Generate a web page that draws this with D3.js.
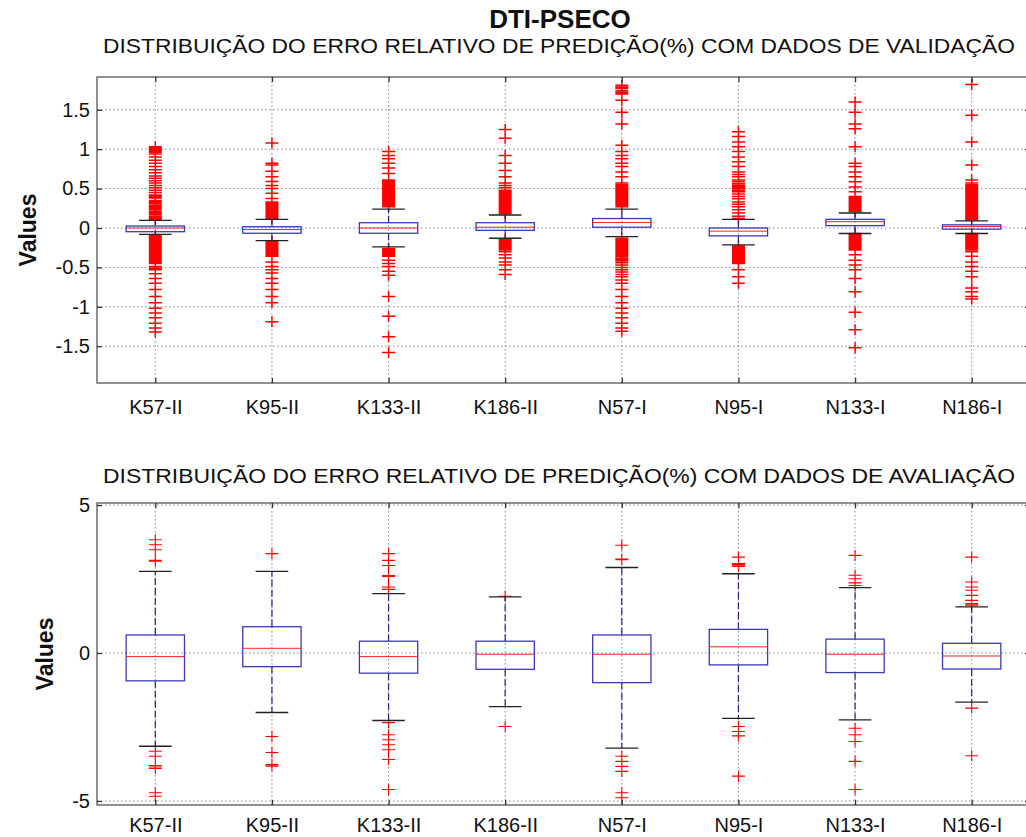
<!DOCTYPE html>
<html>
<head>
<meta charset="utf-8">
<script src="https://cdn.jsdelivr.net/npm/d3@7"></script>
<style>
  body { margin: 0; background: #fff; }
  svg { display: block; font-family: "Liberation Sans", Arial, sans-serif; }
</style>
</head>
<body>
<svg></svg>
<script>
"use strict";

const categories = ["K57-II", "K95-II", "K133-II", "K186-II", "N57-I", "N95-I", "N133-I", "N186-I"];

// validation data (top)
const valTicks = [-1.5, -1, -0.5, 0, 0.5, 1, 1.5];
const valQ1 = [-0.047, -0.067, -0.067, -0.03, 0.01, -0.1, 0.03, -0.015];
const valMedian = [0.0, -0.02, 0.0, 0.01, 0.07, -0.04, 0.08, 0.02];
const valQ3 = [0.025, 0.016, 0.067, 0.067, 0.12, 0.0, 0.11, 0.04];
const valLow = [-0.08, -0.16, -0.24, -0.13, -0.11, -0.215, -0.07, -0.07];
const valHigh = [0.097, 0.11, 0.24, 0.165, 0.24, 0.11, 0.19, 0.09];
const valOutHigh = [
  [0.11, 0.13, 0.15, 0.17, 0.19, 0.21, 0.23, 0.25, 0.27, 0.29, 0.31, 0.33, 0.35, 0.38, 0.4, 0.42, 0.45, 0.48, 0.51, 0.54, 0.57, 0.6, 0.63, 0.66, 0.7, 0.74, 0.78, 0.82, 0.86, 0.9, 0.94, 0.96, 0.975, 0.99, 1.0, 1.01, 1.02, 1.03],
  [0.12, 0.13, 0.145, 0.16, 0.17, 0.185, 0.2, 0.21, 0.225, 0.24, 0.25, 0.265, 0.28, 0.29, 0.305, 0.32, 0.33, 0.375, 0.44, 0.5, 0.54, 0.59, 0.65, 0.72, 0.8, 0.82, 1.08],
  [0.27, 0.28, 0.295, 0.31, 0.32, 0.335, 0.35, 0.36, 0.375, 0.39, 0.4, 0.415, 0.43, 0.44, 0.455, 0.47, 0.48, 0.495, 0.51, 0.52, 0.535, 0.55, 0.56, 0.575, 0.59, 0.61, 0.69, 0.76, 0.82, 0.88, 0.92, 0.97],
  [0.18, 0.19, 0.205, 0.22, 0.23, 0.245, 0.26, 0.27, 0.285, 0.3, 0.31, 0.325, 0.34, 0.35, 0.365, 0.38, 0.39, 0.405, 0.42, 0.43, 0.445, 0.46, 0.48, 0.51, 0.54, 0.57, 0.65, 0.73, 0.82, 0.92, 1.14, 1.25],
  [0.27, 0.28, 0.295, 0.31, 0.32, 0.335, 0.35, 0.36, 0.375, 0.39, 0.4, 0.415, 0.43, 0.44, 0.455, 0.47, 0.48, 0.495, 0.51, 0.52, 0.535, 0.55, 0.57, 0.65, 0.71, 0.78, 0.82, 0.88, 0.92, 0.97, 1.05, 1.32, 1.47, 1.62, 1.7, 1.72, 1.74, 1.77, 1.79, 1.81],
  [0.12, 0.15, 0.19, 0.23, 0.27, 0.3, 0.33, 0.37, 0.4, 0.43, 0.46, 0.48, 0.5, 0.52, 0.54, 0.56, 0.586, 0.61, 0.65, 0.68, 0.71, 0.78, 0.84, 0.9, 0.97, 1.03, 1.09, 1.16, 1.22],
  [0.21, 0.22, 0.235, 0.25, 0.26, 0.275, 0.29, 0.3, 0.315, 0.33, 0.34, 0.355, 0.37, 0.38, 0.4, 0.46, 0.52, 0.586, 0.65, 0.71, 0.78, 0.82, 1.03, 1.26, 1.32, 1.47, 1.6],
  [0.1, 0.11, 0.125, 0.14, 0.15, 0.165, 0.18, 0.19, 0.205, 0.22, 0.23, 0.245, 0.26, 0.27, 0.285, 0.3, 0.31, 0.325, 0.34, 0.35, 0.365, 0.38, 0.39, 0.405, 0.42, 0.43, 0.445, 0.46, 0.47, 0.485, 0.5, 0.51, 0.525, 0.54, 0.55, 0.57, 0.61, 0.8, 1.09, 1.43, 1.82]
];
const valOutLow = [
  [-0.1, -0.11, -0.12, -0.135, -0.15, -0.16, -0.17, -0.185, -0.2, -0.21, -0.22, -0.235, -0.25, -0.26, -0.27, -0.285, -0.3, -0.31, -0.32, -0.335, -0.35, -0.36, -0.37, -0.385, -0.4, -0.41, -0.42, -0.435, -0.45, -0.49, -0.51, -0.53, -0.58, -0.64, -0.7, -0.78, -0.87, -0.95, -1.02, -1.08, -1.14, -1.21, -1.27, -1.32],
  [-0.17, -0.18, -0.195, -0.21, -0.22, -0.235, -0.25, -0.26, -0.275, -0.29, -0.3, -0.315, -0.33, -0.345, -0.36, -0.43, -0.49, -0.53, -0.57, -0.64, -0.7, -0.78, -0.87, -0.95, -1.19],
  [-0.26, -0.27, -0.285, -0.3, -0.31, -0.325, -0.34, -0.35, -0.36, -0.41, -0.45, -0.49, -0.55, -0.6, -0.87, -1.12, -1.38, -1.58],
  [-0.15, -0.16, -0.175, -0.19, -0.2, -0.215, -0.23, -0.24, -0.255, -0.27, -0.28, -0.3, -0.34, -0.38, -0.43, -0.47, -0.53, -0.59],
  [-0.13, -0.14, -0.155, -0.17, -0.18, -0.195, -0.21, -0.22, -0.235, -0.25, -0.26, -0.275, -0.29, -0.3, -0.315, -0.33, -0.345, -0.36, -0.38, -0.4, -0.42, -0.44, -0.47, -0.5, -0.53, -0.56, -0.59, -0.62, -0.66, -0.7, -0.78, -0.87, -0.95, -1.02, -1.08, -1.14, -1.21, -1.27, -1.31],
  [-0.23, -0.24, -0.255, -0.27, -0.28, -0.295, -0.31, -0.32, -0.335, -0.35, -0.36, -0.375, -0.39, -0.4, -0.415, -0.43, -0.45, -0.53, -0.62, -0.7],
  [-0.07, -0.08, -0.095, -0.11, -0.12, -0.135, -0.15, -0.16, -0.175, -0.19, -0.2, -0.215, -0.23, -0.24, -0.255, -0.27, -0.28, -0.34, -0.41, -0.47, -0.53, -0.64, -0.81, -1.07, -1.29, -1.52],
  [-0.07, -0.08, -0.095, -0.11, -0.12, -0.135, -0.15, -0.16, -0.175, -0.19, -0.2, -0.215, -0.23, -0.24, -0.255, -0.27, -0.28, -0.3, -0.36, -0.43, -0.49, -0.55, -0.62, -0.76, -0.81, -0.87, -0.9]
];

// evaluation data (bottom)
const evalTicks = [-5, 0, 5];
const evalQ1 = [-0.94, -0.46, -0.68, -0.55, -1.0, -0.4, -0.66, -0.54];
const evalMedian = [-0.12, 0.16, -0.12, -0.04, -0.04, 0.21, -0.04, -0.1];
const evalQ3 = [0.61, 0.89, 0.4, 0.4, 0.61, 0.8, 0.47, 0.33];
const evalLow = [-3.15, -2.01, -2.28, -1.81, -3.21, -2.21, -2.26, -1.66];
const evalHigh = [2.76, 2.76, 2.01, 1.9, 2.89, 2.68, 2.21, 1.56];
const evalOutHigh = [
  [3.1, 3.13, 3.49, 3.66, 3.83],
  [3.36],
  [2.15, 2.23, 2.59, 2.62, 2.96, 3.13, 3.36],
  [1.92],
  [3.15, 3.18, 3.64],
  [2.93, 2.98, 3.02, 3.24],
  [2.28, 2.37, 2.51, 2.63, 3.3],
  [1.62, 1.67, 1.78, 1.95, 2.12, 2.23, 2.4, 3.24]
];
const evalOutLow = [
  [-3.32, -3.49, -3.8, -3.85, -3.9, -4.72, -4.84],
  [-2.82, -3.36, -3.77, -3.82],
  [-2.35, -2.76, -2.93, -3.1, -3.27, -3.6, -4.61],
  [-2.48],
  [-3.49, -3.66, -3.83, -4.0, -4.72, -4.89],
  [-2.48, -2.65, -2.8, -4.16],
  [-2.54, -2.76, -2.99, -3.66, -4.61],
  [-1.86, -3.47]
];

const width = 1026;
const height = 837;
const plotLeft = 97;
const plotRight = 1030;
const font = '"Liberation Sans", Arial, sans-serif';

const svg = d3.select("svg").attr("width", width).attr("height", height);

const xScale = d3.scaleLinear().domain([0.5, 8.5]).range([plotLeft, plotRight]);
const positions = categories.map((c, i) => i + 1);

const drawPanel = (p) => {
  const yScale = d3.scaleLinear().domain(p.domain).range([p.bottom, p.top]);
  const g = svg.append("g");

  // dotted grid
  g.selectAll(".hgrid")
    .data(p.ticks)
    .enter()
    .append("line")
    .attr("x1", plotLeft)
    .attr("x2", plotRight)
    .attr("y1", (d) => yScale(d))
    .attr("y2", (d) => yScale(d))
    .attr("stroke", "#888")
    .attr("stroke-dasharray", "1.5,2.5");
  g.selectAll(".vgrid")
    .data(positions)
    .enter()
    .append("line")
    .attr("x1", (d) => xScale(d))
    .attr("x2", (d) => xScale(d))
    .attr("y1", p.top)
    .attr("y2", p.bottom)
    .attr("stroke", "#888")
    .attr("stroke-dasharray", "1.5,2.5");

  // outliers as red +
  positions.forEach((pos, i) => {
    const x = xScale(pos);
    const pts = p.outHigh[i].concat(p.outLow[i]);
    g.append("path")
      .attr("d", pts.map((v) => {
        const y = yScale(v);
        return `M${x - 6.5},${y}H${x + 6.5}M${x},${y - 5.5}V${y + 5.5}`;
      }).join(""))
      .attr("fill", "none")
      .attr("stroke", "#ff0000")
      .attr("stroke-width", p.markerStroke);
  });

  const boxW = xScale(1.25) - xScale(1);
  const capW = xScale(1.14) - xScale(1);

  // whiskers
  g.selectAll(".whisk")
    .data(positions)
    .enter()
    .append("path")
    .attr("d", (d, i) => `M${xScale(d)},${yScale(p.q3[i])}V${yScale(p.high[i])}M${xScale(d)},${yScale(p.q1[i])}V${yScale(p.low[i])}`)
    .attr("stroke", "#222288")
    .attr("stroke-width", 1.2)
    .attr("stroke-dasharray", "7,3")
    .attr("fill", "none");
  g.selectAll(".cap")
    .data(positions)
    .enter()
    .append("path")
    .attr("d", (d, i) => `M${xScale(d) - capW},${yScale(p.high[i])}H${xScale(d) + capW}M${xScale(d) - capW},${yScale(p.low[i])}H${xScale(d) + capW}`)
    .attr("stroke", "#222")
    .attr("stroke-width", 1.3)
    .attr("fill", "none");

  // boxes
  g.selectAll(".box")
    .data(positions)
    .enter()
    .append("rect")
    .attr("x", (d) => xScale(d) - boxW)
    .attr("width", boxW * 2)
    .attr("y", (d, i) => yScale(p.q3[i]))
    .attr("height", (d, i) => yScale(p.q1[i]) - yScale(p.q3[i]))
    .attr("fill", "none")
    .attr("stroke", "#3a3ab8")
    .attr("stroke-width", 1.3);
  g.selectAll(".med")
    .data(positions)
    .enter()
    .append("line")
    .attr("x1", (d) => xScale(d) - boxW)
    .attr("x2", (d) => xScale(d) + boxW)
    .attr("y1", (d, i) => yScale(p.median[i]))
    .attr("y2", (d, i) => yScale(p.median[i]))
    .attr("stroke", "#ff2020");

  // frame
  g.append("rect")
    .attr("x", plotLeft)
    .attr("y", p.top)
    .attr("width", plotRight - plotLeft)
    .attr("height", p.bottom - p.top)
    .attr("fill", "none")
    .attr("stroke", "#555")
    .attr("stroke-width", 1.3);

  // axes, ticks inward
  const yAxis = d3.axisLeft(yScale).tickValues(p.ticks).tickFormat((d) => String(d)).tickSize(-5).tickPadding(7);
  const yAxisR = d3.axisRight(yScale).tickValues(p.ticks).tickFormat("").tickSize(-5);
  const xAxis = d3.axisBottom(xScale).tickValues(positions).tickFormat((d) => categories[d - 1]).tickSize(-5).tickPadding(p.labelPad);
  const xAxisT = d3.axisTop(xScale).tickValues(positions).tickFormat("").tickSize(-5);

  const axes = [
    g.append("g").attr("transform", `translate(${plotLeft},0)`).call(yAxis),
    g.append("g").attr("transform", `translate(${plotRight},0)`).call(yAxisR),
    g.append("g").attr("transform", `translate(0,${p.bottom})`).call(xAxis),
    g.append("g").attr("transform", `translate(0,${p.top})`).call(xAxisT)
  ];
  axes.forEach((a) => {
    a.select(".domain").remove();
    a.selectAll("line").attr("stroke", "#333").attr("stroke-width", 1.3);
    a.selectAll("text").attr("font-family", font).attr("font-size", 20).attr("fill", "#111");
  });

  g.append("text")
    .attr("transform", `translate(${p.labelX},${(p.top + p.bottom) / 2}) rotate(-90)`)
    .attr("text-anchor", "middle")
    .attr("dy", "0.35em")
    .attr("font-family", font)
    .attr("font-weight", "bold")
    .attr("font-size", 23)
    .attr("fill", "#111")
    .text("Values");

  g.append("text")
    .attr("x", 559)
    .attr("y", p.titleY)
    .attr("text-anchor", "middle")
    .attr("font-family", font)
    .attr("font-size", 20)
    .attr("textLength", 912)
    .attr("lengthAdjust", "spacingAndGlyphs")
    .attr("fill", "#111")
    .text(p.title);
};

svg.append("rect").attr("width", width).attr("height", height).attr("fill", "#fff");

svg.append("text")
  .attr("x", 560)
  .attr("y", 28)
  .attr("text-anchor", "middle")
  .attr("font-family", font)
  .attr("font-weight", "bold")
  .attr("font-size", 26)
  .attr("fill", "#111")
  .text("DTI-PSECO");

drawPanel({
  top: 77, bottom: 383, domain: [-1.967, 1.916], ticks: valTicks,
  q1: valQ1, median: valMedian, q3: valQ3, low: valLow, high: valHigh,
  outHigh: valOutHigh, outLow: valOutLow, markerStroke: 1.5,
  labelPad: 17, labelX: 28, titleY: 53,
  title: "DISTRIBUIÇÃO DO ERRO RELATIVO DE PREDIÇÃO(%) COM DADOS DE VALIDAÇÃO"
});

drawPanel({
  top: 503, bottom: 805, domain: [-5.135, 5.07], ticks: evalTicks,
  q1: evalQ1, median: evalMedian, q3: evalQ3, low: evalLow, high: evalHigh,
  outHigh: evalOutHigh, outLow: evalOutLow, markerStroke: 1.1,
  labelPad: 13, labelX: 45, titleY: 483,
  title: "DISTRIBUIÇÃO DO ERRO RELATIVO DE PREDIÇÃO(%) COM DADOS DE AVALIAÇÃO"
});
</script>
</body>
</html>
